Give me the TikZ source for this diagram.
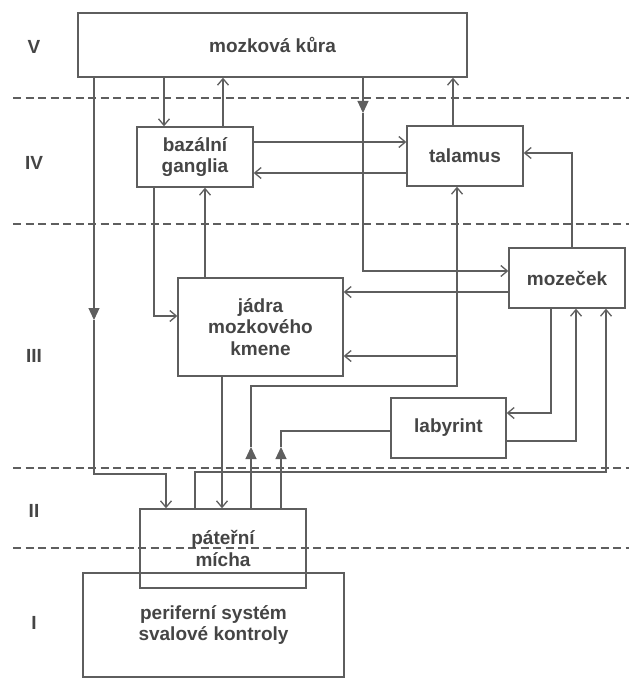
\documentclass[tikz,border=0pt]{standalone}
\usepackage{fontspec}
\setmainfont{Liberation Sans}
\usetikzlibrary{arrows.meta,calc}
\definecolor{ln}{HTML}{5E5E5E}
\definecolor{tx}{HTML}{454545}
\begin{document}
\begin{tikzpicture}[x=1pt,y=-1pt,
 box/.style={draw=ln,line width=1.4pt,inner sep=0pt,align=center,font=\fontsize{19}{21.5}\selectfont\bfseries,text=tx},
 conn/.style={draw=ln,line width=1.2pt,-{Straight Barb[length=6.5pt,width=11pt,line width=1.3pt]}},
 plain/.style={draw=ln,line width=1.2pt},
 midtri/.style={draw=ln,line width=1.2pt,-{Triangle[length=12pt,width=11pt]}},
 lvl/.style={font=\fontsize{19}{21}\selectfont\bfseries,text=tx},
 sep/.style={draw=ln,line width=1.2pt,dash pattern=on 8pt off 4.5pt}]
\useasboundingbox[fill=white] (0,0) rectangle (629,682);

% level separators
\foreach \yy in {98,224,468,548} \draw[sep] (13,\yy) -- (629,\yy);

% level labels
\node[lvl] (lV) at (34,47) {V};
\node[lvl] (lIV) at (34,163) {IV};
\node[lvl] (lIII) at (34,356) {III};
\node[lvl] (lII) at (34,511) {II};
\node[lvl] (lI) at (34,623) {I};

% boxes
\node[box,minimum width=389pt,minimum height=64pt] (kura) at (272.5,45) {mozková kůra};
\node[box,minimum width=116pt,minimum height=60pt] (bg) at (195,157) {bazální\\ganglia};
\node[box,minimum width=116pt,minimum height=60pt] (tal) at (465,156) {talamus};
\node[box,minimum width=116pt,minimum height=60pt] (moz) at (567,278) {mozeček};
\node[box,minimum width=165pt,minimum height=98pt] (jad) at (260.5,327) {jádra\\mozkového\\kmene};
\node[box,minimum width=115pt,minimum height=60pt] (lab) at (448.5,428) {labyrint};
\node[box,minimum width=261pt,minimum height=104pt] (per) at (213.5,625) {periferní systém\\svalové kontroly};
\node[box,minimum width=166pt,minimum height=79pt,text depth=0pt] (pat) at (223,548.5) {páteřní\\mícha};

% named points
\coordinate (t1) at (94,320);
\coordinate (t2) at (363,113);
\coordinate (t3) at (251,447);
\coordinate (t4) at (281,447);

% connectors
\draw[conn] (164,0 |- kura.south) -- (164,0 |- bg.north);
\draw[conn] (223,0 |- bg.north) -- (223,0 |- kura.south);
\draw[conn] (453,0 |- tal.north) -- (453,0 |- kura.south);

\draw[midtri] (94,0 |- kura.south) -- (t1);
\draw[conn] (t1) -- (94,474) -- (166,474) -- (166,0 |- pat.north);

\draw[midtri] (363,0 |- kura.south) -- (t2);
\draw[conn] (t2) -- (363,271) -- (moz.west |- 0,271);

\draw[conn] (bg.east |- 0,142) -- (tal.west |- 0,142);
\draw[conn] (tal.west |- 0,173) -- (bg.east |- 0,173);

\draw[conn] (572,0 |- moz.north) -- (572,153) -- (tal.east |- 0,153);

\draw[conn] (154,0 |- bg.south) -- (154,316) -- (jad.west |- 0,316);
\draw[conn] (205,0 |- jad.north) -- (205,0 |- bg.south);

\draw[conn] (moz.west |- 0,292) -- (jad.east |- 0,292);

\draw[midtri] (251,0 |- pat.north) -- (t3);
\draw[conn] (t3) -- (251,386) -- (457,386) -- (457,0 |- tal.south);
\draw[conn] (457,356) -- (jad.east |- 0,356);

\draw[conn] (222,0 |- jad.south) -- (222,0 |- pat.north);

\draw[midtri] (281,0 |- pat.north) -- (t4);
\draw[plain] (t4) -- (281,431) -- (lab.west |- 0,431);

\draw[conn] (551,0 |- moz.south) -- (551,413) -- (lab.east |- 0,413);
\draw[conn] (lab.east |- 0,441) -- (576,441) -- (576,0 |- moz.south);

\draw[conn] (195,0 |- pat.north) -- (195,472) -- (606,472) -- (606,0 |- moz.south);
\end{tikzpicture}
\end{document}
